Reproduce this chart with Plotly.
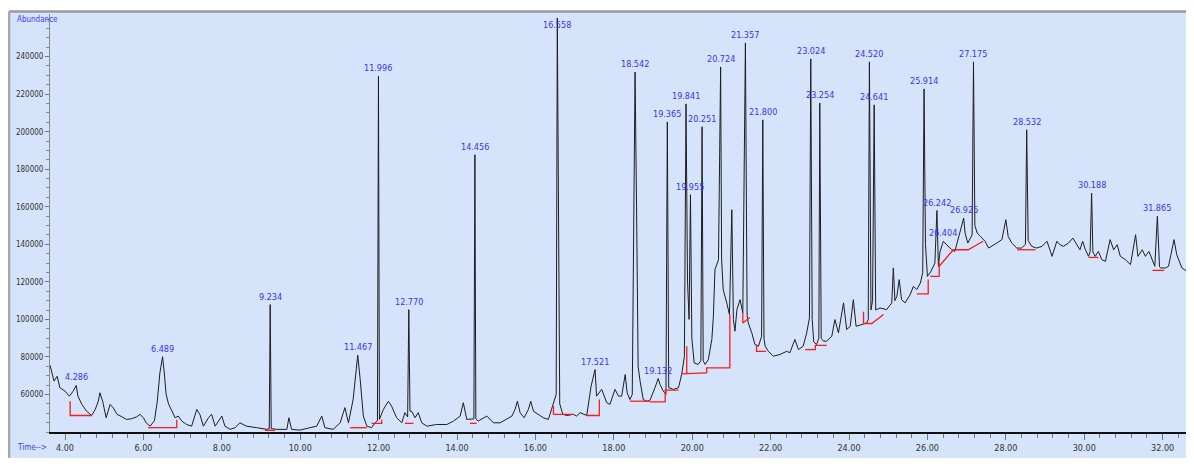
import plotly.graph_objects as go

# ---- chromatogram trace (time in min, abundance) ----
times = [3.62, 3.66, 3.72, 3.80, 3.87, 4.00, 4.11, 4.20, 4.286, 4.33, 4.43, 4.55, 4.68, 4.77, 4.85, 4.89,
         4.96, 5.05, 5.15, 5.23, 5.33, 5.45, 5.57, 5.70, 5.83, 5.91, 6.00, 6.07, 6.17, 6.28, 6.35, 6.42,
         6.489, 6.53, 6.58, 6.64, 6.72, 6.81, 6.89, 6.98, 7.10, 7.23, 7.36, 7.44, 7.53, 7.66, 7.74, 7.83,
         8.00, 8.08, 8.21, 8.34, 8.46, 8.63, 8.89, 9.15, 9.21, 9.234, 9.26, 9.40, 9.66, 9.71, 9.78, 9.99,
         10.25, 10.42, 10.55, 10.63, 10.84, 11.02, 11.14, 11.23, 11.35, 11.467, 11.53, 11.61, 11.70, 11.82,
         11.91, 11.97, 11.996, 12.02, 12.12, 12.25, 12.33, 12.46, 12.59, 12.67, 12.74, 12.770, 12.80, 12.84,
         12.93, 13.01, 13.10, 13.23, 13.48, 13.74, 13.91, 14.08, 14.16, 14.25, 14.43, 14.456, 14.48, 14.54,
         14.76, 14.93, 15.10, 15.27, 15.40, 15.48, 15.54, 15.61, 15.71, 15.82, 15.88, 15.95, 16.07, 16.20,
         16.33, 16.41, 16.47, 16.53, 16.558, 16.59, 16.62, 16.70, 16.80, 16.97, 17.05, 17.14, 17.31, 17.42,
         17.521, 17.56, 17.69, 17.82, 17.90, 18.03, 18.12, 18.20, 18.29, 18.34, 18.41, 18.47, 18.50, 18.542,
         18.58, 18.62, 18.67, 18.75, 18.84, 18.92, 19.05, 19.132, 19.18, 19.26, 19.33, 19.365, 19.40, 19.52,
         19.65, 19.73, 19.80, 19.841, 19.88, 19.92, 19.955, 19.99, 20.05, 20.15, 20.22, 20.251, 20.28, 20.33,
         20.41, 20.50, 20.54, 20.58, 20.67, 20.724, 20.75, 20.79, 20.88, 20.95, 21.01, 21.05, 21.09, 21.14,
         21.22, 21.29, 21.357, 21.40, 21.43, 21.52, 21.60, 21.69, 21.77, 21.800, 21.83, 21.86, 21.94, 22.07,
         22.24, 22.41, 22.49, 22.62, 22.71, 22.83, 22.92, 22.99, 23.024, 23.06, 23.10, 23.17, 23.23, 23.254,
         23.29, 23.35, 23.43, 23.56, 23.64, 23.73, 23.86, 23.94, 24.03, 24.11, 24.18, 24.32, 24.45, 24.49,
         24.520, 24.56, 24.60, 24.641, 24.68, 24.79, 24.96, 25.09, 25.13, 25.17, 25.22, 25.28, 25.34, 25.43,
         25.56, 25.64, 25.73, 25.82, 25.88, 25.914, 25.95, 26.00, 26.09, 26.19, 26.242, 26.28, 26.32, 26.404,
         26.49, 26.62, 26.70, 26.79, 26.86, 26.925, 26.96, 27.03, 27.14, 27.175, 27.21, 27.27, 27.35, 27.47,
         27.56, 27.64, 27.77, 27.90, 28.00, 28.06, 28.15, 28.28, 28.40, 28.50, 28.532, 28.57, 28.66, 28.79,
         28.92, 29.05, 29.18, 29.30, 29.38, 29.47, 29.60, 29.71, 29.81, 29.89, 29.96, 30.03, 30.11, 30.15,
         30.188, 30.22, 30.28, 30.36, 30.45, 30.54, 30.66, 30.75, 30.84, 30.92, 31.05, 31.18, 31.31, 31.37,
         31.48, 31.56, 31.65, 31.74, 31.80, 31.865, 31.92, 31.95, 32.08, 32.15, 32.29, 32.36, 32.49, 32.62,
         32.75, 32.80]

abundance = [75500, 71500, 67100, 69700, 63600, 61800, 59100, 61500, 64800, 59100, 54700, 51100, 48800, 52000, 56400, 60900,
             56400, 47600, 54700, 52900, 49400, 48100, 46700, 47100, 48100, 49400, 47600, 44900, 43100, 46000, 55600, 71500,
             80100, 72000, 60000, 55000, 51100, 47600, 48500, 45800, 44000, 43100, 52000, 49400, 43100, 47600, 49400, 43100,
             48500, 43100, 41400, 42300, 44900, 43100, 42300, 41400, 41800, 107900, 41800, 41400, 41400, 47600, 41400, 41000,
             42300, 43100, 48500, 42300, 41400, 44900, 53000, 44900, 57300, 81000, 68000, 48500, 43100, 42300,
             44900, 46000, 229500, 46700, 52000, 56400, 53800, 47600, 44900, 50300, 48000, 105200, 51100, 51100,
             47600, 50300, 44900, 43100, 44000, 44000, 45800, 48500, 55600, 46700, 47000, 187700, 47000, 45800,
             48500, 44900, 44900, 46700, 48500, 52000, 56400, 50300, 47600, 52000, 56400, 51100, 49400, 47600,
             46700, 52000, 55600, 60000, 260600, 120000, 55000, 49400, 48800, 49400, 48500, 50300, 48800, 64400,
             73300, 59100, 62700, 55600, 54700, 62700, 59100, 59100, 70600, 60900, 57300, 60000, 150000, 231800,
             160000, 75000, 67100, 57300, 56400, 56800, 63600, 68500, 65300, 61800, 60000, 205200, 63600, 62700,
             63600, 70600, 80200, 214800, 120000, 100000, 166400, 90000, 76800, 76000, 78000, 202600, 78000, 76000,
             78600, 89300, 101700, 126500, 131800, 234500, 131800, 115900, 108800, 102600, 158400, 100000, 93700, 105200,
             110500, 103500, 247300, 102000, 98100, 92800, 86600, 85700, 91000, 206300, 90000, 85700, 83000, 80400,
             81300, 83000, 82200, 89300, 83900, 85700, 92800, 100800, 238800, 100000, 88000, 86600, 90000, 215300,
             90000, 88400, 88400, 91000, 99900, 92800, 108800, 94600, 96300, 110500, 96300, 97200, 98100, 100000,
             237200, 105000, 110000, 214300, 105000, 106100, 105200, 108800, 127400, 110000, 112300, 121200, 110500, 108800,
             113200, 117600, 115900, 119400, 125000, 222800, 140000, 122900, 125600, 130000, 158000, 128300, 136000, 141600,
             139800, 137100, 136200, 143300, 148000, 154000, 146000, 140700, 145000, 237200, 150000, 146000, 144200, 141600,
             138000, 138900, 140700, 142500, 153100, 144200, 140700, 138000, 138000, 140000, 201000, 142000, 138900, 138000,
             138900, 141600, 133600, 141600, 139800, 138900, 140700, 143300, 139800, 137100, 141600, 137100, 133600, 136000,
             167300, 136000, 133600, 136200, 131800, 130900, 142500, 137100, 139800, 133600, 131800, 129200, 145100, 133600,
             137100, 133600, 136200, 130900, 128300, 154900, 128000, 127400, 127400, 128300, 142500, 134500, 127400, 125600,
             121200, 119000]

# ---- labelled peaks (retention time, apex abundance) ----
peak_times = [4.286, 6.489, 9.234, 11.467, 11.996, 12.770, 14.456, 16.558, 17.521, 18.542, 19.132, 19.365,
              19.841, 19.955, 20.251, 20.724, 21.357, 21.800, 23.024, 23.254, 24.520, 24.641, 25.914, 26.242,
              26.404, 26.925, 27.175, 28.532, 30.188, 31.865]
peak_heights = [64800, 80100, 107900, 81000, 229500, 105200, 187700, 260600, 73300, 231800, 68500, 205200,
                214800, 166400, 202600, 234500, 247300, 206300, 238800, 215300, 237200, 214300, 222800, 158000,
                141600, 154000, 237200, 201000, 167300, 154900]
peak_labels = ["4.286", "6.489", "9.234", "11.467", "11.996", "12.770", "14.456", "16.558", "17.521", "18.542",
               "19.132", "19.365", "19.841", "19.955", "20.251", "20.724", "21.357", "21.800", "23.024", "23.254",
               "24.520", "24.641", "25.914", "26.242", "26.404", "26.925", "27.175", "28.532", "30.188", "31.865"]

# ---- integration baselines (red polylines) ----
baseline_t = [
    [4.13, 4.13, 4.68], [6.12, 6.85, 6.85], [9.10, 9.36], [11.27, 11.70], [11.82, 12.08, 12.08],
    [12.67, 12.89], [14.33, 14.50], [16.46, 16.46, 16.97], [17.31, 17.63, 17.63], [18.41, 18.92],
    [18.92, 19.31, 19.31, 19.65], [19.73, 20.37], [19.86, 19.86], [20.37, 20.37, 20.96, 20.96],
    [21.29, 21.29, 21.47], [21.64, 21.64, 21.88], [22.88, 23.14, 23.14, 23.43],
    [24.37, 24.37, 24.58, 24.88], [25.73, 26.02, 26.02], [26.07, 26.30, 26.30],
    [26.30, 26.66, 27.04, 27.42], [28.29, 28.76], [30.11, 30.36], [31.74, 32.04]]
baseline_v = [
    [56400, 48800, 48800], [42300, 42300, 46500], [40900, 40900], [42300, 42300], [44600, 44600, 46500],
    [44600, 44600], [44600, 44600], [53800, 49400, 49400], [48800, 48800, 57300], [56400, 56400],
    [56100, 56100, 62300, 62300], [71000, 71500], [71300, 85700], [71500, 74200, 74200, 102600],
    [103500, 98100, 101000], [86600, 83000, 83000], [83900, 83900, 86200, 86200],
    [104000, 97800, 97800, 102600], [113600, 113600, 121200], [122900, 122900, 130000],
    [128300, 137100, 137100, 141600], [137100, 137100], [133000, 133000], [126100, 126100]]

x_ticks = [4, 6, 8, 10, 12, 14, 16, 18, 20, 22, 24, 26, 28, 30, 32]
y_ticks = [60000, 80000, 100000, 120000, 140000, 160000, 180000, 200000, 220000, 240000]

NARROW = "Liberation Sans Narrow, DejaVu Sans Condensed, Arial Narrow, sans-serif"
BG = "#d5e3fb"
LABEL_BLUE = "#3535f0"

fig = go.Figure()

fig.add_trace(go.Scatter(x=times, y=abundance, mode="lines",
                         line=dict(color="#1e1e1e", width=1), hoverinfo="skip", showlegend=False))

bx, by = [], []
for ts, vs in zip(baseline_t, baseline_v):
    bx += ts + [None]
    by += vs + [None]
fig.add_trace(go.Scatter(x=bx, y=by, mode="lines", line=dict(color="#ff1a1a", width=1.3),
                         hoverinfo="skip", showlegend=False))

YMAX = 262700
label_cap = 252500
for t, h, lab in zip(peak_times, peak_heights, peak_labels):
    fig.add_annotation(x=t, y=min(h, label_cap), text=lab, showarrow=False, yanchor="bottom",
                       xanchor="center", yshift=1,
                       font=dict(family=NARROW, size=9, color=LABEL_BLUE))

# frame / background
fig.add_shape(type="rect", xref="paper", yref="paper", x0=-0.0358, x1=1.0, y0=-0.062, y1=1.0048,
              fillcolor=BG, line=dict(width=0), layer="below")
fig.add_shape(type="line", xref="paper", yref="paper", x0=-0.0358, x1=1.0, y0=1.0060, y1=1.0060,
              line=dict(color="#9a9a9a", width=2.5), layer="below")
fig.add_shape(type="line", xref="paper", yref="paper", x0=-0.0358, x1=-0.0358, y0=-0.062, y1=1.0060,
              line=dict(color="#a8a8a8", width=2.5), layer="below")

fig.add_annotation(xref="paper", yref="paper", x=-0.031, y=0.988, text="Abundance", showarrow=False,
                   xanchor="left", yanchor="middle", font=dict(family=NARROW, size=8, color="#3b3bff"))
fig.add_annotation(xref="paper", yref="paper", x=-0.031, y=-0.038, text="Time-->", showarrow=False,
                   xanchor="left", yanchor="middle", font=dict(family=NARROW, size=8, color="#3b3bff"))

# the page body has an 8px margin, so the figure is sized/margined to land on the same pixels
fig.update_layout(
    width=1186, height=456,
    margin=dict(l=42, r=0, t=6, b=32),
    paper_bgcolor="white", plot_bgcolor="rgba(0,0,0,0)",
    showlegend=False,
    xaxis=dict(range=[3.617, 32.80], tickvals=x_ticks, ticktext=[f"{v:.2f}" for v in x_ticks],
               ticks="outside", ticklen=6, tickcolor="#777", tickwidth=1,
               minor=dict(tick0=0, dtick=0.4, ticks="outside", ticklen=4, tickcolor="#777"),
               showline=True, linecolor="#111", linewidth=2, showgrid=False, zeroline=False,
               tickfont=dict(family=NARROW, size=9, color="#333")),
    yaxis=dict(range=[40000, YMAX], tickvals=y_ticks, ticktext=[str(v) for v in y_ticks],
               ticks="outside", ticklen=4, tickcolor="#777", tickwidth=1,
               minor=dict(tick0=0, dtick=5000, ticks="outside", ticklen=3, tickcolor="#888"),
               showline=True, linecolor="#888", linewidth=1, showgrid=False, zeroline=False,
               tickfont=dict(family=NARROW, size=8, color="#333")),
)

fig.write_html("out.html")
